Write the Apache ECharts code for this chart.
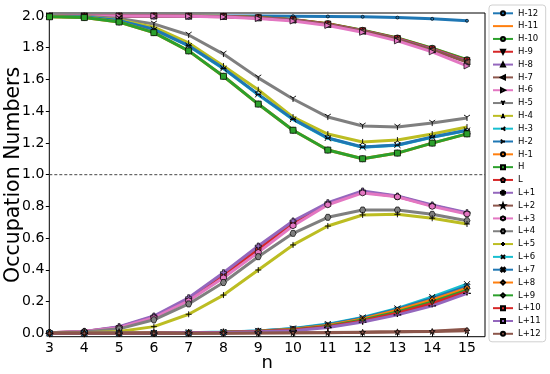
<!DOCTYPE html>
<html>
<head>
<meta charset="utf-8">
<script src="https://cdn.jsdelivr.net/npm/echarts@6/dist/echarts.min.js"></script>
<style>html,body{margin:0;padding:0;background:#fff}#c{width:550px;height:374px}</style>
</head>
<body>
<div id="c"></div>
<script>
// ---- data ----
const nValues = [3, 4, 5, 6, 7, 8, 9, 10, 11, 12, 13, 14, 15];
const yTicks = [0.0, 0.2, 0.4, 0.6, 0.8, 1.0, 1.2, 1.4, 1.6, 1.8, 2.0];
const seriesNames = ['H-12','H-11','H-10','H-9','H-8','H-7','H-6','H-5','H-4','H-3','H-2','H-1','H','L','L+1','L+2','L+3','L+4','L+5','L+6','L+7','L+8','L+9','L+10','L+11','L+12'];

const H12 = [2.000, 2.000, 2.000, 2.000, 2.000, 2.000, 2.000, 1.999, 1.997, 1.995, 1.990, 1.982, 1.970];
const H11 = [2.000, 2.000, 2.000, 2.000, 1.999, 1.998, 1.990, 1.977, 1.951, 1.909, 1.860, 1.795, 1.722];
const H10 = [2.000, 2.000, 2.000, 2.000, 1.999, 1.998, 1.990, 1.978, 1.952, 1.910, 1.862, 1.797, 1.725];
const H9  = [2.000, 2.000, 2.000, 2.000, 1.999, 1.997, 1.989, 1.976, 1.949, 1.907, 1.858, 1.792, 1.718];
const H8  = [2.000, 2.000, 2.000, 2.000, 1.999, 1.997, 1.988, 1.975, 1.947, 1.905, 1.855, 1.789, 1.714];
const H7  = [2.000, 2.000, 2.000, 2.000, 1.999, 1.996, 1.988, 1.974, 1.946, 1.904, 1.853, 1.786, 1.710];
const H6  = [2.000, 2.000, 2.000, 2.000, 1.998, 1.994, 1.984, 1.968, 1.940, 1.897, 1.843, 1.774, 1.685];
const H5  = [2.000, 1.998, 1.985, 1.950, 1.880, 1.760, 1.610, 1.477, 1.363, 1.307, 1.300, 1.325, 1.357];
const H4  = [1.999, 1.995, 1.975, 1.930, 1.830, 1.685, 1.535, 1.363, 1.256, 1.206, 1.218, 1.256, 1.300];
const H3  = [1.998, 1.994, 1.970, 1.914, 1.811, 1.668, 1.504, 1.348, 1.229, 1.172, 1.185, 1.235, 1.278];
const H2  = [1.998, 1.994, 1.971, 1.916, 1.813, 1.670, 1.506, 1.350, 1.231, 1.174, 1.187, 1.237, 1.280];
const H1  = [1.995, 1.990, 1.962, 1.895, 1.780, 1.620, 1.445, 1.280, 1.155, 1.100, 1.136, 1.199, 1.257];
const H0  = [1.995, 1.990, 1.962, 1.895, 1.780, 1.620, 1.445, 1.280, 1.155, 1.100, 1.136, 1.199, 1.257];
const L0  = [0.004, 0.012, 0.038, 0.104, 0.215, 0.366, 0.530, 0.693, 0.816, 0.891, 0.862, 0.805, 0.756];
const L1  = [0.004, 0.012, 0.042, 0.109, 0.224, 0.382, 0.550, 0.708, 0.823, 0.897, 0.865, 0.809, 0.760];
const L2  = [0.000, 0.000, 0.000, 0.001, 0.001, 0.002, 0.003, 0.004, 0.005, 0.007, 0.009, 0.012, 0.016];
const L3  = [0.004, 0.011, 0.035, 0.098, 0.205, 0.350, 0.510, 0.678, 0.810, 0.885, 0.860, 0.800, 0.752];
const L4  = [0.003, 0.008, 0.028, 0.085, 0.185, 0.320, 0.483, 0.630, 0.731, 0.777, 0.777, 0.750, 0.710];
const L5  = [0.001, 0.004, 0.012, 0.042, 0.120, 0.241, 0.399, 0.557, 0.676, 0.746, 0.750, 0.725, 0.689];
const L6  = [0.000, 0.000, 0.001, 0.002, 0.004, 0.008, 0.015, 0.030, 0.058, 0.100, 0.157, 0.229, 0.310];
const L7  = [0.000, 0.000, 0.001, 0.002, 0.004, 0.007, 0.014, 0.028, 0.054, 0.096, 0.152, 0.220, 0.296];
const L8  = [0.000, 0.000, 0.001, 0.002, 0.003, 0.007, 0.013, 0.026, 0.050, 0.091, 0.146, 0.211, 0.284];
const L9  = [0.000, 0.000, 0.001, 0.002, 0.003, 0.006, 0.012, 0.023, 0.045, 0.084, 0.135, 0.198, 0.272];
const L10 = [0.000, 0.000, 0.001, 0.002, 0.003, 0.006, 0.011, 0.021, 0.041, 0.078, 0.127, 0.188, 0.262];
const L11 = [0.000, 0.000, 0.001, 0.001, 0.003, 0.005, 0.009, 0.016, 0.036, 0.071, 0.116, 0.173, 0.252];
const L12 = [0.000, 0.000, 0.000, 0.000, 0.001, 0.001, 0.002, 0.003, 0.004, 0.006, 0.009, 0.013, 0.025];
const dashedLevel = [1.0, 1.0];

const seriesValues = [H12,H11,H10,H9,H8,H7,H6,H5,H4,H3,H2,H1,H0,L0,L1,L2,L3,L4,L5,L6,L7,L8,L9,L10,L11,L12];

// ---- styles ----
const tab10 = ['#1f77b4','#ff7f0e','#2ca02c','#d62728','#9467bd','#8c564b','#e377c2','#7f7f7f','#bcbd22','#17becf'];
const P = {
  blank: 'path://M0,0 L1,1',
  tri1: 'path://M0,0 L0,10 M0,0 L-8.66,-5 M0,0 L8.66,-5',
  tri2: 'path://M0,0 L0,-10 M0,0 L-8.66,5 M0,0 L8.66,5',
  tri3: 'path://M0,0 L-10,0 M0,0 L5,-8.66 M0,0 L5,8.66',
  tri4: 'path://M0,0 L10,0 M0,0 L-5,-8.66 M0,0 L-5,8.66',
  plus: 'path://M-5,0 L5,0 M0,-5 L0,5',
  cross: 'path://M-5,-5 L5,5 M-5,5 L5,-5',
  pent: 'path://M0,-10 L9.51,-3.09 L5.88,8.09 L-5.88,8.09 L-9.51,-3.09 Z',
  plusF: 'path://M-2,-6 L2,-6 L2,-2 L6,-2 L6,2 L2,2 L2,6 L-2,6 L-2,2 L-6,2 L-6,-2 L-2,-2 Z',
  star: 'path://M0,-10 L2.35,-3.24 L9.51,-3.09 L3.8,1.24 L5.88,8.09 L0,4 L-5.88,8.09 L-3.8,1.24 L-9.51,-3.09 L-2.35,-3.24 Z',
  hexa: 'path://M0,-10 L8.66,-5 L8.66,5 L0,10 L-8.66,5 L-8.66,-5 Z',
  hexb: 'path://M-10,0 L-5,-8.66 L5,-8.66 L10,0 L5,8.66 L-5,8.66 Z',
  crossF: 'path://M-6,-4 L-4,-6 L0,-2 L4,-6 L6,-4 L2,0 L6,4 L4,6 L0,2 L-4,6 L-6,4 L-2,0 Z'
};
// [symbol, size, rotate, strokeOnly]
const markers = [
  ['circle', 3, 0, false], [P.blank, 1, 0, 'none'], ['circle', 6, 0, false],
  ['triangle', 6, 180, false], ['triangle', 6, 0, false], ['triangle', 6, 90, false], ['triangle', 6, -90, false],
  [P.tri1, 6, 0, true], [P.tri2, 6, 0, true], [P.tri3, 6, 0, true], [P.tri4, 6, 0, true],
  ['circle', 6, 0, false], ['rect', 6, 0, false], [P.pent, 6, 0, false],
  [P.plusF, 6, 0, false], [P.star, 6, 0, false], [P.hexa, 6, 0, false], [P.hexb, 6, 0, false],
  [P.plus, 6, 0, true], [P.cross, 6, 0, true], [P.crossF, 6, 0, false], ['diamond', 6, 0, false],
  ['diamond', [4, 6], 0, false], ['rect', [1, 6], 0, false], ['rect', [6, 1], 0, false], ['circle', 3, 0, false]
];

const dataSeries = seriesNames.map((name, i) => {
  const c = tab10[i % 10];
  const m = markers[i];
  let itemStyle;
  if (m[3] === 'none') itemStyle = { color: c, borderWidth: 0, opacity: 0 };
  else if (m[3]) itemStyle = { color: c, borderColor: '#000', borderWidth: 0.9 };
  else itemStyle = { color: c, borderColor: '#000', borderWidth: 0.7 };
  return {
    name: name, type: 'line', xAxisIndex: 1, yAxisIndex: 1,
    data: nValues.map((n, k) => [n, seriesValues[i][k]]),
    symbol: m[0], symbolSize: m[1], symbolRotate: m[2],
    clip: false, animation: false, silent: true,
    lineStyle: { color: c, width: 3 },
    itemStyle: itemStyle,
    emphasis: { disabled: true }
  };
});

const F = 'DejaVu Sans';
const option = {
  animation: false,
  grid: [
    { left: 49.3, right: 65, top: 13, bottom: 37.3, show: true, borderColor: '#000', borderWidth: 1, backgroundColor: 'transparent', containLabel: false, outerBoundsMode: 'none' },
    { left: 49.5, right: 83, top: 16, bottom: 40.7, containLabel: false, outerBoundsMode: 'none' }
  ],
  xAxis: [
    { gridIndex: 0, type: 'value', min: 0, max: 1, name: 'n', nameLocation: 'middle', nameGap: 18,
      nameTextStyle: { fontFamily: F, fontSize: 18, color: '#000' },
      axisLine: { show: false }, axisTick: { show: false }, axisLabel: { show: false }, splitLine: { show: false } },
    { gridIndex: 1, type: 'value', min: nValues[0], max: nValues[nValues.length - 1], interval: 1, offset: 3.4,
      axisLine: { show: false }, axisTick: { show: true, length: 3.5, lineStyle: { color: '#000', width: 1 } },
      axisLabel: { fontFamily: F, fontSize: 14, color: '#000', margin: 5 }, splitLine: { show: false } }
  ],
  yAxis: [
    { gridIndex: 0, type: 'value', min: -0.021, max: 2.019, name: 'Occupation Numbers', nameLocation: 'middle', nameGap: 25.5,
      nameTextStyle: { fontFamily: F, fontSize: 20.5, color: '#000' },
      axisLine: { show: false }, axisTick: { show: false }, axisLabel: { show: false }, splitLine: { show: false } },
    { gridIndex: 1, type: 'value', min: yTicks[0], max: yTicks[yTicks.length - 1], interval: 0.2, offset: 0.2,
      axisLine: { show: false }, axisTick: { show: true, length: 3.5, lineStyle: { color: '#000', width: 1 } },
      axisLabel: { fontFamily: F, fontSize: 14, color: '#000', margin: 5, formatter: v => v.toFixed(1) }, splitLine: { show: false } }
  ],
  legend: {
    orient: 'vertical', left: 489, top: 5, padding: [3.3, 5, 3, 3],
    itemWidth: 20, itemHeight: 5, itemGap: 2.82,
    data: seriesNames,
    textStyle: { fontFamily: F, fontSize: 8.5, color: '#000', lineHeight: 10 },
    borderColor: '#d0d0d0', borderWidth: 1, borderRadius: 3, backgroundColor: '#fff',
    selectedMode: false
  },
  series: [
    { name: 'dash', type: 'line', xAxisIndex: 0, yAxisIndex: 0, data: [[0, dashedLevel[0]], [1, dashedLevel[1]]],
      symbol: 'none', silent: true, lineStyle: { color: '#444', width: 1, type: [3, 2] } }
  ].concat(dataSeries)
};
const chart = echarts.init(document.getElementById('c'), null, { renderer: 'canvas' });
chart.setOption(option);
</script>
</body>
</html>
